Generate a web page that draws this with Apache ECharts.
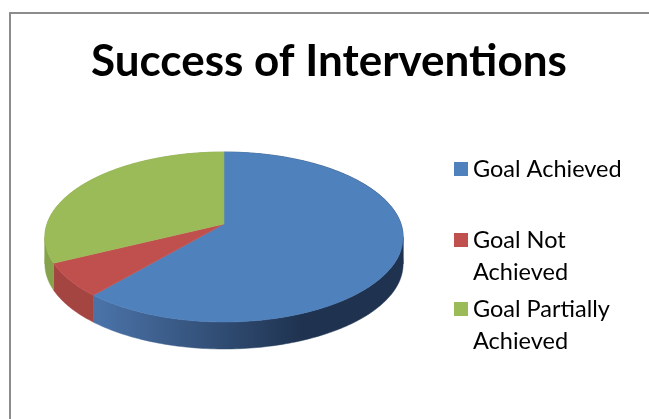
<!DOCTYPE html>
<html>
<head>
<meta charset="utf-8">
<script src="https://cdn.jsdelivr.net/npm/echarts@6/dist/echarts.min.js"></script>
<style>
  html, body { margin: 0; padding: 0; background: #fff; }
  #chart { width: 649px; height: 419px; }
</style>
</head>
<body>
<div id="chart"></div>
<script>
// data
const categories = ['Goal Achieved', 'Goal Not Achieved', 'Goal Partially Achieved'];
const counts = [19, 2, 10];

// styles
const TOP_COLORS = ['#4f81bd', '#c0504d', '#9bbb59'];
const SIDE_COLORS = [
  ['#4a72a7', '#1f3350'],
  ['#a54542', '#9a403d'],
  ['#87a24c', '#7d9646'],
];
const LEGEND_TOPS = [153, 192, 261];

// tilted pie geometry (pixels)
const CX = 224;
const CY = 224;
const RX = 177;
const RY = 83;
const PERSP = 0.153;
const DEPTH = 27;

const total = counts.reduce((s, v) => s + v, 0);
const starts = [];
counts.reduce((acc, v) => { starts.push(acc); return acc + v; }, 0);
const toAngle = (v) => (v / total) * Math.PI * 2;

function project(theta, drop) {
  const u = Math.sin(theta);
  const v = Math.cos(theta);
  const s = 1 + PERSP * v;
  return [CX + (RX * u) / s, CY - (RY * v) / s + drop];
}

function arcPoints(a, b, drop) {
  const pts = [];
  const n = Math.max(2, Math.ceil((b - a) / (Math.PI / 180)));
  for (let i = 0; i <= n; i++) pts.push(project(a + ((b - a) * i) / n, drop));
  return pts;
}

// angles where the outline is widest, used to split side walls into x-monotone pieces
function findExtremes() {
  let maxX = -Infinity, minX = Infinity, tR = 0, tL = 0;
  for (let i = 0; i <= 3600; i++) {
    const t = (i / 3600) * Math.PI * 2;
    const x = project(t, 0)[0];
    if (x > maxX) { maxX = x; tR = t; }
    if (x < minX) { minX = x; tL = t; }
  }
  return [tR, tL];
}
const [T_RIGHT, T_LEFT] = findExtremes();

function sliceAngles(i) {
  return [toAngle(starts[i]), toAngle(starts[i] + counts[i])];
}

function renderSide(params, api) {
  const i = params.dataIndex;
  const [a, b] = sliceAngles(i);
  const cuts = [0, T_RIGHT, T_LEFT, Math.PI * 2];
  const fill = new echarts.graphic.LinearGradient(CX - RX, 0, CX + RX, 0, [
    { offset: 0, color: SIDE_COLORS[i][0] },
    { offset: 0.15, color: SIDE_COLORS[i][0] },
    { offset: 0.72, color: SIDE_COLORS[i][1] },
    { offset: 1, color: SIDE_COLORS[i][1] },
  ], true);
  const children = [];
  for (let k = 0; k < 3; k++) {
    const lo = Math.max(a, cuts[k]);
    const hi = Math.min(b, cuts[k + 1]);
    if (hi - lo <= 1e-6) continue;
    const pts = arcPoints(lo, hi, 0).concat(arcPoints(lo, hi, DEPTH).reverse());
    children.push({
      type: 'polygon',
      shape: { points: pts },
      style: { fill: fill, stroke: fill, lineWidth: 0.5 },
    });
  }
  return { type: 'group', children: children };
}

function renderTop(params, api) {
  const i = params.dataIndex;
  const [a, b] = sliceAngles(i);
  const pts = [[CX, CY]].concat(arcPoints(a, b, 0));
  return {
    type: 'polygon',
    shape: { points: pts },
    style: { fill: TOP_COLORS[i], stroke: TOP_COLORS[i], lineWidth: 0.5 },
  };
}

const chart = echarts.init(document.getElementById('chart'));

chart.setOption({
  backgroundColor: '#ffffff',
  animation: false,
  title: {
    text: 'Success of Interventions',
    left: 91,
    top: 40,
    padding: 0,
    textStyle: {
      fontFamily: 'Lato',
      fontWeight: 'bold',
      fontSize: 44,
      color: '#000000',
    },
  },
  legend: categories.map((name, i) => ({
    data: [name],
    orient: 'vertical',
    left: 454,
    top: LEGEND_TOPS[i],
    padding: 0,
    icon: 'rect',
    itemWidth: 14,
    itemHeight: 14,
    selectedMode: false,
    // wrapped entries get an empty leading line so the marker sits beside the first line
    formatter: i === 0 ? '{name}' : '\n{name}',
    textStyle: {
      fontFamily: 'Lato',
      fontSize: 23.5,
      color: '#000000',
      lineHeight: 32,
      width: 165,
      overflow: 'break',
    },
  })),
  graphic: [
    {
      type: 'rect',
      shape: { x: 10, y: 13, width: 700, height: 500 },
      style: { fill: 'none', stroke: '#8c8c8c', lineWidth: 2 },
      silent: true,
    },
  ],
  series: [
    {
      // only feeds the legend
      type: 'pie',
      radius: [0, 0],
      center: [CX, CY],
      silent: true,
      label: { show: false },
      labelLine: { show: false },
      data: categories.map((name, i) => ({
        name: name,
        value: counts[i],
        itemStyle: { color: TOP_COLORS[i] },
      })),
    },
    {
      type: 'custom',
      coordinateSystem: 'none',
      silent: true,
      z: 1,
      renderItem: renderSide,
      data: counts.map((v) => [v]),
    },
    {
      type: 'custom',
      coordinateSystem: 'none',
      silent: true,
      z: 2,
      renderItem: renderTop,
      data: counts.map((v) => [v]),
    },
  ],
});
</script>
</body>
</html>
